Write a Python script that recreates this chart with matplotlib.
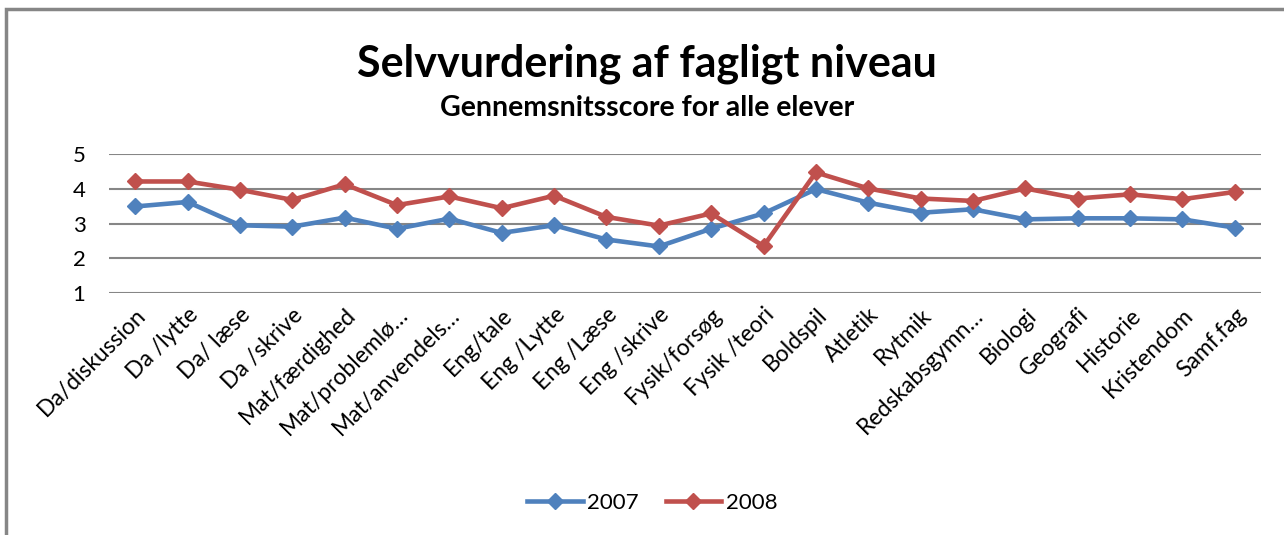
import matplotlib
matplotlib.use("Agg")
import matplotlib.pyplot as plt
from matplotlib.patches import Rectangle

plt.rcParams["font.family"] = ["Lato", "DejaVu Sans"]

# categories and average scores
subjects = [
    "Da/diskussion", "Da /lytte", "Da/ læse", "Da /skrive", "Mat/færdighed",
    "Mat/problemlø…", "Mat/anvendels…", "Eng/tale", "Eng /Lytte", "Eng /Læse",
    "Eng /skrive", "Fysik/forsøg", "Fysik /teori", "Boldspil", "Atletik",
    "Rytmik", "Redskabsgymn…", "Biologi", "Geografi", "Historie",
    "Kristendom", "Samf.fag",
]
score_2007 = [3.49, 3.62, 2.95, 2.91, 3.17, 2.85, 3.14, 2.73, 2.95, 2.54, 2.34,
              2.85, 3.29, 3.99, 3.60, 3.31, 3.41, 3.12, 3.15, 3.15, 3.12, 2.88]
score_2008 = [4.21, 4.21, 3.97, 3.68, 4.13, 3.53, 3.78, 3.44, 3.80, 3.19, 2.94,
              3.29, 2.35, 4.47, 4.01, 3.72, 3.65, 4.01, 3.72, 3.84, 3.70, 3.91]
years = ["2007", "2008"]
y_ticks = [1, 2, 3, 4, 5]

blue = "#4F81BD"
red = "#C0504D"
grid_col = "#868686"

fig = plt.figure(figsize=(12.84, 5.35), dpi=100)
ax = fig.add_axes([0.0849, 0.4523, 0.8972, 0.2598])

x = list(range(len(subjects)))
ax.plot(x, score_2007, color=blue, lw=3.3, marker="D", ms=8, label=years[0])
ax.plot(x, score_2008, color=red, lw=3.3, marker="D", ms=8, label=years[1])

ax.set_xlim(-0.5, len(subjects) - 0.5)
ax.set_ylim(1, 5)
ax.set_yticks(y_ticks)
ax.set_yticklabels([str(t) for t in y_ticks], fontsize=16)
ax.set_xticks(x)
ax.set_xticklabels(subjects, rotation=45, ha="right", va="top",
                   rotation_mode="anchor", fontsize=16.5)
ax.tick_params(axis="y", length=0, pad=17)
ax.tick_params(axis="x", length=0, pad=8)

for s in ax.spines.values():
    s.set_visible(False)
ax.grid(axis="y", color=grid_col, lw=1.5)
ax.set_axisbelow(True)

fig.text(0.504, 0.881, "Selvvurdering af fagligt niveau", ha="center",
         va="center", fontsize=31, fontweight="bold")
fig.text(0.504, 0.799, "Gennemsnitsscore for alle elever", ha="center",
         va="center", fontsize=20.5, fontweight="bold")

fig.legend(loc="center", bbox_to_anchor=(0.508, 0.06), ncol=2, frameon=False,
           fontsize=16, handlelength=2.5, columnspacing=1.2, handletextpad=0.2)

# chart area border (only top and left edges are inside the picture)
fig.patches.append(Rectangle((6 / 1284, -1), 2, 1 + (1 - 9 / 535),
                             transform=fig.transFigure, fill=False,
                             edgecolor=grid_col, lw=2.5))

fig.savefig("out.png", dpi=100)
